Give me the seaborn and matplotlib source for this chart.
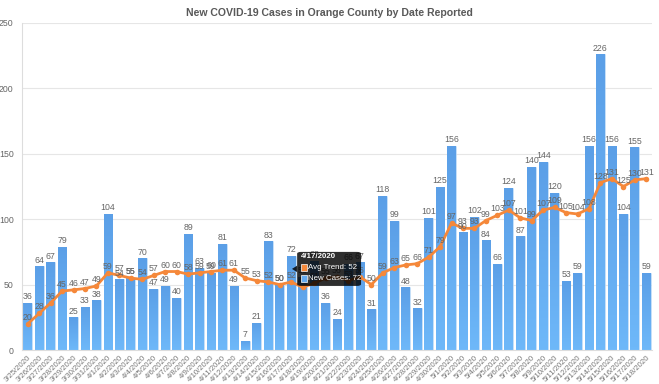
import numpy as np
import pandas as pd
import matplotlib
matplotlib.use("Agg")
import matplotlib.pyplot as plt
import seaborn as sns
from matplotlib.patches import FancyBboxPatch, Rectangle
from matplotlib.colors import LinearSegmentedColormap

# ---- data ----
dates = (
    [f"3/{d}/2020" for d in range(25, 32)]
    + [f"4/{d}/2020" for d in range(1, 31)]
    + [f"5/{d}/2020" for d in range(1, 19)]
)
new_cases = [36, 64, 67, 79, 25, 33, 38,
             104, 54, 55, 70, 47, 49, 40, 89, 63, 59, 81, 49, 7, 21, 83, 50, 72, 56, 68,
             36, 24, 66, 67, 31, 118, 99, 48, 32, 101, 125,
             156, 90, 102, 84, 66, 124, 87, 140, 144, 120, 53, 59, 156, 226, 156, 104, 155, 59]
avg_trend = [20, 28, 36, 45, 46, 47, 49,
             59, 57, 55, 54, 57, 60, 60, 58, 59, 60, 61, 61, 55, 53, 52, 50, 52, 48, 51,
             55, 56, 53, 56, 50, 59, 63, 65, 66, 71, 79,
             97, 93, 93, 99, 103, 107, 101, 99, 107, 109, 105, 104, 108, 128, 131, 125, 130, 131]
y_ticks = [0, 50, 100, 150, 200, 250]
title = "New COVID-19 Cases in Orange County by Date Reported"
tooltip_date = "4/17/2020"

df = pd.DataFrame({"date": dates, "cases": new_cases, "trend": avg_trend,
                   "pos": np.arange(len(dates))})

sns.set_theme(style="white")
plt.rcParams["font.family"] = ["Liberation Sans", "DejaVu Sans"]

fig = plt.figure(figsize=(6.59, 3.84), dpi=100)
ax = fig.add_axes([22/659, 1-350/384, (652-22)/659, (350-23)/384])

bar_color = "#64AAEF"
sns.barplot(data=df, x="pos", y="cases", color=bar_color, width=0.76,
            saturation=1, ax=ax, edgecolor="#d6e8fa", linewidth=0.4, zorder=2)

# vertical gradient on bars
cmap = LinearSegmentedColormap.from_list("g", ["#5B9FE7", "#6EB8F9"])
grad = np.linspace(0, 1, 64).reshape(-1, 1)
for p in list(ax.patches):
    x0, y0, w, h = p.get_x(), p.get_y(), p.get_width(), p.get_height()
    im = ax.imshow(grad, cmap=cmap, aspect="auto", extent=(x0, x0 + w, y0, y0 + h),
                   origin="upper", zorder=2.1)
    im.set_clip_path(p)

sns.lineplot(data=df, x="pos", y="trend", color="#F5883A", linewidth=2.0,
             marker="o", markersize=4, markeredgewidth=0, ax=ax, zorder=4)

label_kw = dict(ha="center", va="bottom", fontsize=6.3, color="#666666", zorder=5)
for i, (c, t) in enumerate(zip(new_cases, avg_trend)):
    ax.text(i, c + 1.2, str(c), **label_kw)
    ax.text(i, t + 1.5, str(t), **label_kw)

ax.set_xlim(-0.5, len(dates) - 0.5)
ax.set_ylim(0, 250)
ax.set_yticks(y_ticks)
ax.set_yticklabels([str(v) for v in y_ticks], fontsize=6.3, color="#666666")
ax.set_xticks(np.arange(len(dates)))
ax.set_xticklabels(dates, rotation=45, ha="right", rotation_mode="anchor",
                   fontsize=5.6, color="#777777")
ax.set_xticks(np.arange(len(dates) + 1) - 0.5, minor=True)
ax.tick_params(axis="x", which="major", length=0, pad=3)
ax.tick_params(axis="x", which="minor", length=4, color="#dddddd", width=0.8)
ax.tick_params(axis="y", length=4, color="#dddddd", pad=2)
ax.set_xlabel("")
ax.set_ylabel("")
ax.grid(axis="y", color="#e6e6e6", linewidth=0.8, zorder=0)
ax.set_axisbelow(True)
for s in ["top", "right"]:
    ax.spines[s].set_visible(False)
for s in ["left", "bottom"]:
    ax.spines[s].set_color("#dddddd")
    ax.spines[s].set_linewidth(0.8)
if ax.get_legend():
    ax.get_legend().remove()

fig.text(0.5, 1 - 13/384, title, ha="center", va="center", fontsize=7.6,
         fontweight="bold", color="#595959")

# tooltip
ti = dates.index(tooltip_date)
bx0, bx1, by0, by1 = ti + 0.52, ti + 6.1, 49, 75
tip_alpha = 0.82
box = FancyBboxPatch((bx0, by0), bx1 - bx0, by1 - by0,
                     boxstyle="round,pad=0,rounding_size=0.35",
                     facecolor="#000000", alpha=tip_alpha, edgecolor="none", zorder=10,
                     mutation_aspect=4)
ax.add_patch(box)
ax.fill([bx0 - 0.45, bx0, bx0], [62, 59.5, 64.5], color="#000000", alpha=tip_alpha,
        zorder=10, lw=0)
tfs = 5.7
ax.text(bx0 + 0.3, 71.3, tooltip_date, color="white", fontsize=tfs,
        fontweight="bold", va="center", ha="left", zorder=11)
ax.add_patch(Rectangle((bx0 + 0.3, 60.6), 0.55, 4.8, facecolor="#F5883A",
                       edgecolor="white", linewidth=0.5, zorder=11))
ax.text(bx0 + 0.98, 63.0, f"Avg Trend: {avg_trend[ti]}", color="white", fontsize=tfs,
        va="center", ha="left", zorder=11)
ax.add_patch(Rectangle((bx0 + 0.3, 52.2), 0.55, 4.8, facecolor="#64AAEF",
                       edgecolor="white", linewidth=0.5, zorder=11))
ax.text(bx0 + 0.98, 54.6, f"New Cases: {new_cases[ti]}", color="white", fontsize=tfs,
        va="center", ha="left", zorder=11)

fig.savefig("out.png", dpi=100)
